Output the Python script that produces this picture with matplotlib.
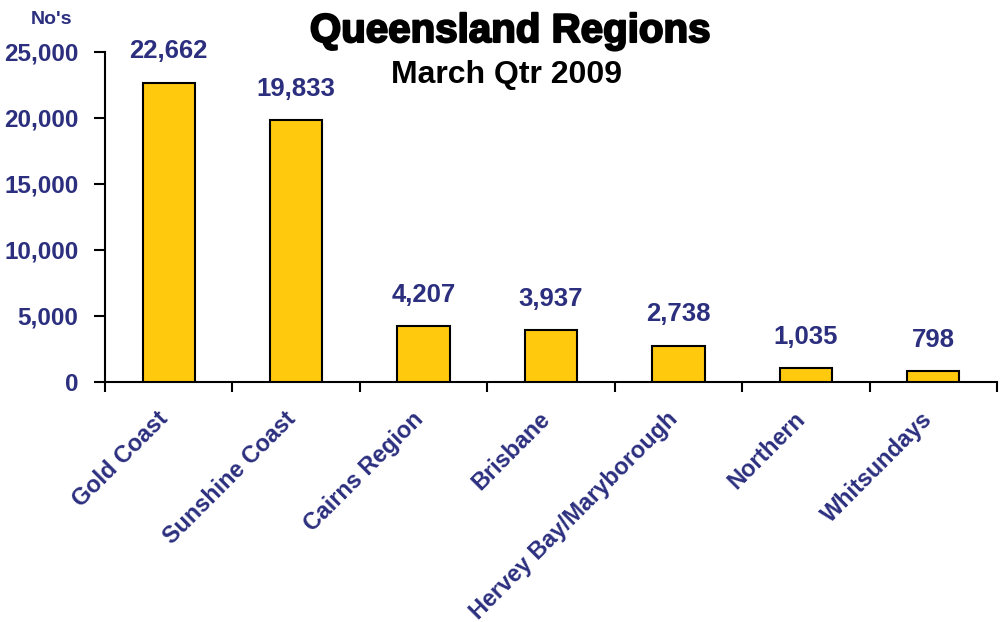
import numpy as np
import matplotlib.pyplot as plt
import matplotlib.patheffects as pe
import matplotlib.transforms as mtransforms

plt.rcParams['font.family'] = ['Liberation Sans', 'DejaVu Sans']
plt.rcParams['font.weight'] = 'bold'

# Data
regions = ['Gold Coast', 'Sunshine Coast', 'Cairns Region', 'Brisbane',
           'Hervey Bay/Maryborough', 'Northern', 'Whitsundays']
visitors = [22662, 19833, 4207, 3937, 2738, 1035, 798]
yticks = [0, 5000, 10000, 15000, 20000, 25000]

navy = '#2B2F7E'
bar_color = '#FFC90E'

fig = plt.figure(figsize=(10.01, 6.22), dpi=100)
ax = fig.add_axes([105 / 1001, 240 / 622, 892 / 1001, 330 / 622])

x = np.arange(len(regions))
ax.bar(x, visitors, width=0.41, color=bar_color, edgecolor='black', linewidth=1.5, zorder=3)

# Value labels above bars
for xi, v in zip(x, visitors):
    ax.annotate(f'{v:,}', (xi, v), xytext=(0, 14), textcoords='offset points',
                ha='center', va='bottom', fontsize=18.5, color=navy, fontweight='bold')

ax.set_xlim(-0.5, len(regions) - 0.5)
ax.set_ylim(0, 25000)
ax.set_yticks(yticks)
ax.set_yticklabels([f'{t:,}' for t in yticks], fontsize=17.5, color=navy, fontweight='bold')

# category labels on major ticks (no marks), boundary ticks on minor
ax.set_xticks(x)
ax.set_xticklabels(regions, rotation=45, ha='right', va='center', rotation_mode='anchor',
                   fontsize=16.8, color=navy, fontweight='bold')
ax.set_xticks(np.arange(-0.5, len(regions)), minor=True)
ax.tick_params(axis='x', which='major', length=0, pad=24)
ax.tick_params(axis='x', which='minor', length=7, width=1.5, direction='out')
ax.tick_params(axis='y', length=8, width=1.5, direction='out', pad=11)

# nudge rotated labels slightly left
shift = mtransforms.ScaledTranslation(-4 / 100, 0, fig.dpi_scale_trans)
for lbl in ax.get_xticklabels():
    lbl.set_transform(lbl.get_transform() + shift)

for side in ['top', 'right']:
    ax.spines[side].set_visible(False)
for side in ['left', 'bottom']:
    ax.spines[side].set_linewidth(1.5)

# Titles
fig.text(510 / 1001, 1 - 42 / 622, 'Queensland Regions', ha='center', va='baseline',
         fontsize=29, fontweight='bold', color='black',
         path_effects=[pe.withStroke(linewidth=1.5, foreground='black')])
fig.text(507 / 1001, 1 - 83 / 622, 'March Qtr 2009', ha='center', va='baseline',
         fontsize=23, fontweight='bold', color='black')
fig.text(52 / 1001, 1 - 24 / 622, "No's", ha='center', va='baseline',
         fontsize=14, fontweight='bold', color=navy)

fig.savefig('out.png', dpi=100)
